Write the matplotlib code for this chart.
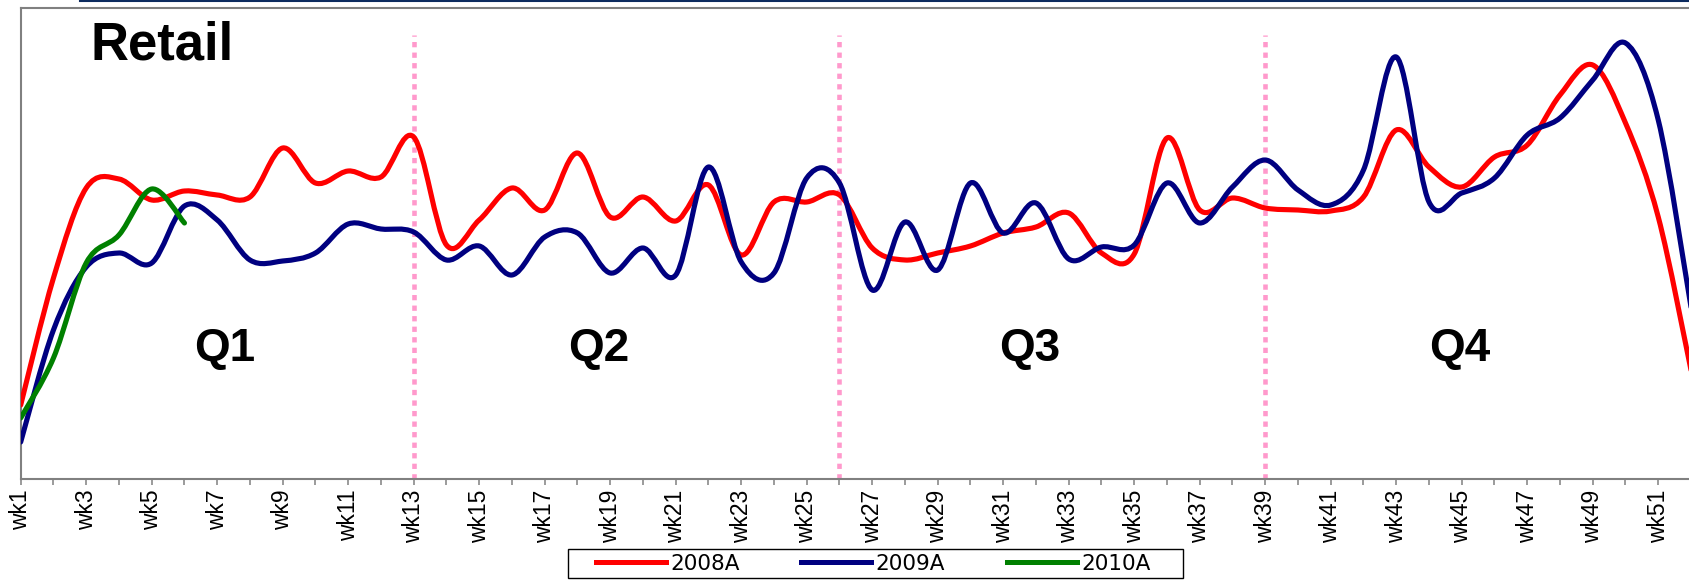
import numpy as np
import matplotlib
matplotlib.use("Agg")
import matplotlib.pyplot as plt
from matplotlib.path import Path
from matplotlib.patches import PathPatch, Rectangle
from matplotlib.lines import Line2D

# ---- data -------------------------------------------------------------
weeks = list(range(1, 53))
week_labels = [f"wk{w}" if w % 2 == 1 else "" for w in weeks]

series_names = ["2008A", "2009A", "2010A"]
series_colors = ["#FF0000", "#000080", "#008000"]

retail_2008 = [74, 201, 291, 300, 279, 288, 284, 282, 331, 296, 308, 302, 342,
               234, 259, 291, 269, 326, 262, 282, 258, 294, 224, 277, 277, 284,
               231, 219, 226, 233, 246, 252, 266, 226, 225, 341, 269, 281, 271,
               269, 268, 282, 349, 312, 292, 322, 334, 384, 414, 356, 262, 109]
retail_2009 = [37, 149, 212, 226, 216, 273, 259, 219, 218, 226, 255, 250, 247,
               219, 233, 204, 242, 246, 206, 231, 204, 312, 217, 206, 301, 296,
               189, 257, 209, 296, 246, 276, 220, 232, 234, 296, 256, 292, 319,
               289, 274, 309, 422, 277, 286, 301, 344, 361, 399, 436, 359, 172]
retail_2010 = [61, 121, 216, 244, 290, 256]

quarter_breaks = [13, 26, 39]
quarter_names = ["Q1", "Q2", "Q3", "Q4"]
quarter_label_x = [7.22, 18.64, 31.80, 44.95]

# ---- helpers ----------------------------------------------------------
def smoothed_path(xs, ys):
    """Cubic Bezier path through the points (Catmull-Rom style smoothing)."""
    pts = np.column_stack([xs, ys]).astype(float)
    n = len(pts)
    verts = [pts[0]]
    codes = [Path.MOVETO]
    for i in range(n - 1):
        p0 = pts[i - 1] if i > 0 else pts[i]
        p1 = pts[i]
        p2 = pts[i + 1]
        p3 = pts[i + 2] if i + 2 < n else pts[i + 1]
        c1 = p1 + (p2 - p0) / 6.0
        c2 = p2 - (p3 - p1) / 6.0
        verts += [c1, c2, p2]
        codes += [Path.CURVE4] * 3
    return Path(verts, codes)

# ---- figure -----------------------------------------------------------
W, H = 1690, 580
DPI = 100
fig = plt.figure(figsize=(W / DPI, H / DPI), dpi=DPI)
fig.patch.set_facecolor("white")

ax_left, ax_right = 20.7, 1691.0
ax_top, ax_bottom = 8.0, 479.0
ax = fig.add_axes([ax_left / W, 1 - ax_bottom / H,
                   (ax_right - ax_left) / W, (ax_bottom - ax_top) / H])
ax.set_xlim(1, 52)
ax.set_ylim(0, 471)

font = "Liberation Sans"

for vals, color in zip([retail_2008, retail_2009, retail_2010], series_colors):
    xs = weeks[:len(vals)]
    patch = PathPatch(smoothed_path(xs, vals), facecolor="none", edgecolor=color,
                      lw=3.7, capstyle="round", joinstyle="round", zorder=3)
    ax.add_patch(patch)

ax.vlines(quarter_breaks, 0, 444, colors="#FF99CC", lw=3.3,
          linestyles=[(0, (1.15, 1.15))], zorder=2)

for q, qx in zip(quarter_names, quarter_label_x):
    ax.text(qx, 118, q, ha="center", va="baseline", fontsize=33,
            fontweight="bold", family=font, color="black")

# axes styling
for side in ["left", "bottom", "top"]:
    ax.spines[side].set_color("#808080")
    ax.spines[side].set_linewidth(1.5)
ax.spines["right"].set_visible(False)
ax.set_yticks([])
ax.set_xticks(weeks)
ax.set_xticklabels(week_labels, rotation=90, fontsize=16.5, family=font)
ax.tick_params(axis="x", direction="out", length=4.5, width=1.1,
               color="#808080", pad=3)

# title
fig.text(91 / W, 1 - 60 / H, "Retail", fontsize=38, fontweight="bold",
         family=font, va="baseline", ha="left")

# thin rule along the top edge
fig.add_artist(Line2D([80 / W, 1.0], [1 - 0.8 / H, 1 - 0.8 / H],
                      color="#0B2A5E", lw=1.5))

# legend: entries every 205.5 px, 70 px sample lines, text 4 px after line
handles = [Line2D([], [], color=c, lw=3.6) for c in series_colors]
fs = 15.5
fs_px = fs * DPI / 72
legend_kw = dict(loc="center left", bbox_to_anchor=(596 / W, 1 - 564 / H), ncol=3,
                 frameon=False, prop={"family": "DejaVu Sans", "size": fs},
                 handlelength=70 / fs_px, handletextpad=4 / fs_px,
                 borderpad=0, borderaxespad=0)
leg = fig.legend(handles, series_names, columnspacing=70 / fs_px, **legend_kw)
fig.canvas.draw()
renderer = fig.canvas.get_renderer()
text_w = max(t.get_window_extent(renderer).width for t in leg.get_texts())
leg.remove()
gap = max(205.5 - 70 - 4 - text_w, 5)
leg = fig.legend(handles, series_names, columnspacing=gap / fs_px, **legend_kw)
fig.add_artist(Rectangle((568 / W, 1 - 578 / H), (1183 - 568) / W, (578 - 549) / H,
                         transform=fig.transFigure, facecolor="none",
                         edgecolor="black", lw=1.0))

fig.savefig("out.png", dpi=DPI)
